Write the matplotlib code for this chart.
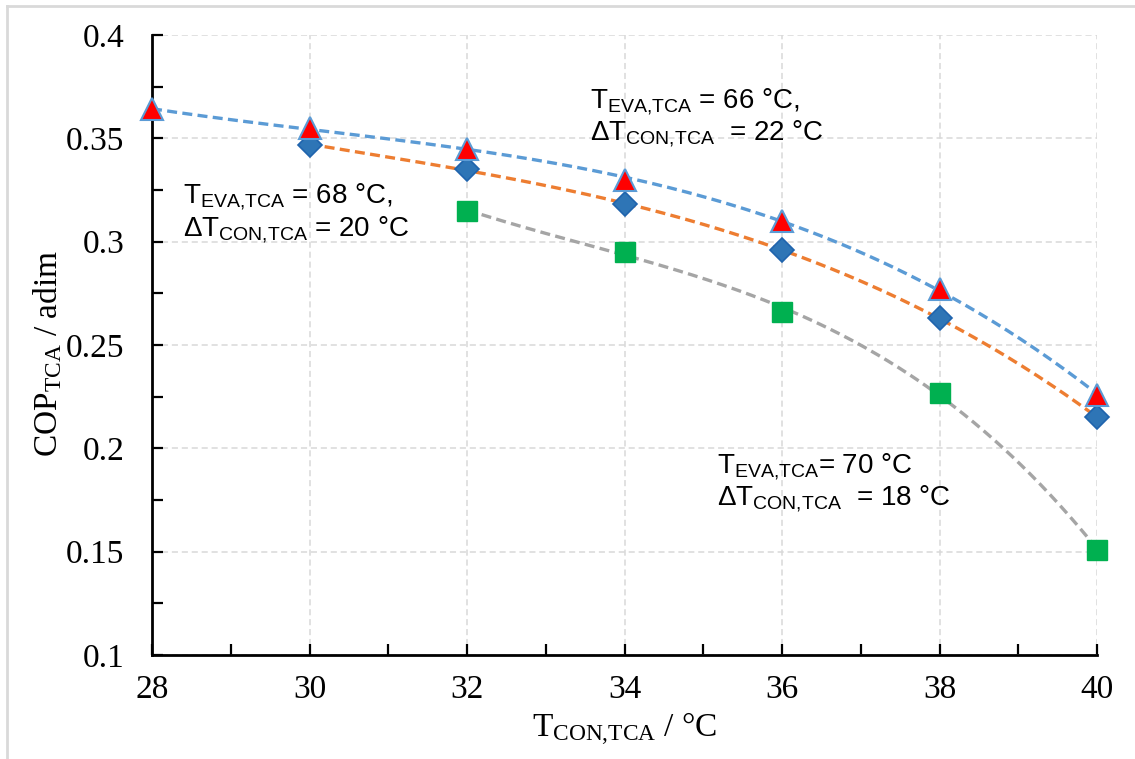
import numpy as np
import matplotlib
matplotlib.use("Agg")
import matplotlib.pyplot as plt
from matplotlib.lines import Line2D
from matplotlib.patches import Rectangle
from matplotlib.ticker import MultipleLocator

# ---- data ----
x_tri = [28, 30, 32, 34, 36, 38, 40]
cop_tri = [0.364, 0.355, 0.345, 0.330, 0.310, 0.277, 0.226]   # T_EVA=66, dT=22
x_dia = [30, 32, 34, 36, 38, 40]
cop_dia = [0.347, 0.335, 0.318, 0.296, 0.263, 0.215]          # T_EVA=68, dT=20
x_sq = [32, 34, 36, 38, 40]
cop_sq = [0.315, 0.295, 0.266, 0.227, 0.151]                  # T_EVA=70, dT=18

xticks = [28, 30, 32, 34, 36, 38, 40]
yticks = [0.1, 0.15, 0.2, 0.25, 0.3, 0.35, 0.4]
ytick_labels = ["0.1", "0.15", "0.2", "0.25", "0.3", "0.35", "0.4"]

plt.rcParams['mathtext.fontset'] = 'custom'
plt.rcParams['mathtext.rm'] = 'Liberation Sans'

W, H = 1135, 759
fig = plt.figure(figsize=(W / 100, H / 100), dpi=100)
ax = fig.add_axes([152 / W, 1 - 655 / H, (1097 - 152) / W, (655 - 35) / H])

# figure border (Excel chart area)
fig.add_artist(Line2D([7 / W, 7 / W], [0, 1 - 6 / H], transform=fig.transFigure,
                      color='#D9D9D9', lw=2))
fig.add_artist(Line2D([7 / W, 1], [1 - 6 / H, 1 - 6 / H], transform=fig.transFigure,
                      color='#D9D9D9', lw=2))

def trend(xs, ys, color):
    c = np.polyfit(xs, ys, 3)
    xx = np.linspace(min(xs), max(xs), 200)
    ax.plot(xx, np.polyval(c, xx), ls=(0, (3, 1.6)), color=color, lw=2.4, zorder=3)

trend(x_tri, cop_tri, '#5B9BD5')
trend(x_dia, cop_dia, '#ED7D31')
trend(x_sq, cop_sq, '#A5A5A5')

ax.plot(x_sq, cop_sq, ls='none', marker='s', ms=15, mfc='#00B050', mec='#00B050',
        zorder=4, clip_on=False)
ax.plot(x_dia, cop_dia, ls='none', marker='D', ms=12, mfc='#2E75B6', mec='#1F64AD',
        mew=1.2, zorder=4, clip_on=False)
ax.plot(x_tri, cop_tri, ls='none', marker='^', ms=16, mfc='#FF0000', mec='#5B9BD5',
        mew=1.5, zorder=5, clip_on=False)

ax.set_xlim(28, 40)
ax.set_ylim(0.1, 0.4)
ax.set_xticks(xticks)
ax.set_xticklabels([str(t) for t in xticks])
ax.set_yticks(yticks)
ax.set_yticklabels(ytick_labels)
ax.xaxis.set_minor_locator(MultipleLocator(1))
ax.yaxis.set_minor_locator(MultipleLocator(0.025))

for s in ['top', 'right']:
    ax.spines[s].set_visible(False)
for s in ['left', 'bottom']:
    ax.spines[s].set_linewidth(2)
    ax.spines[s].set_color('black')

ax.tick_params(which='both', direction='in', length=8, width=1.6, color='black')
ax.tick_params(axis='x', which='major', pad=14, labelsize=24)
ax.tick_params(axis='y', which='major', pad=20, labelsize=24)
for lab in ax.get_xticklabels() + ax.get_yticklabels():
    lab.set_fontfamily('Liberation Serif')

ax.grid(True, which='major', color='#D9D9D9', ls=(0, (4, 2.5)), lw=1.1)
ax.set_axisbelow(True)

ax.set_xlabel(r'T$\mathregular{_{CON{,}TCA}}$ / °C', family='Liberation Serif', size=24)
ax.set_ylabel(r'COP$\mathregular{_{TCA}}$ / adim', family='Liberation Serif', size=24)
ax.xaxis.label.set_va('baseline')
ax.yaxis.label.set_va('baseline')
ax.xaxis.set_label_coords(0.5, (655 - 737) / 620)
ax.yaxis.set_label_coords((57 - 152) / 945, (655 - 354) / 620)

fs = 20
def line(x, y, s):
    fig.text(x / W, 1 - y / H, s, fontsize=fs, family='Liberation Sans',
             va='baseline', zorder=6)

line(590, 108, r'T$\mathregular{_{EVA{,}TCA}}$ = 66 °C,')
line(590, 140, r'ΔT$\mathregular{_{CON{,}TCA}}$  = 22 °C')
line(183, 203, r'T$\mathregular{_{EVA{,}TCA}}$ = 68 °C,')
line(183, 236, r'ΔT$\mathregular{_{CON{,}TCA}}$ = 20 °C')
line(717, 473, r'T$\mathregular{_{EVA{,}TCA}}$= 70 °C')
line(717, 505, r'ΔT$\mathregular{_{CON{,}TCA}}$  = 18 °C')

# white background rectangles hiding the grid behind the text blocks
for (x0, y0, x1, y1) in [(572, 78, 856, 152), (165, 172, 428, 250), (700, 443, 990, 517)]:
    ax.add_artist(Rectangle((x0 / W, 1 - y1 / H), (x1 - x0) / W, (y1 - y0) / H,
                            transform=fig.transFigure, facecolor='white', edgecolor='none',
                            zorder=0.5))

fig.savefig('out.png', dpi=100)
